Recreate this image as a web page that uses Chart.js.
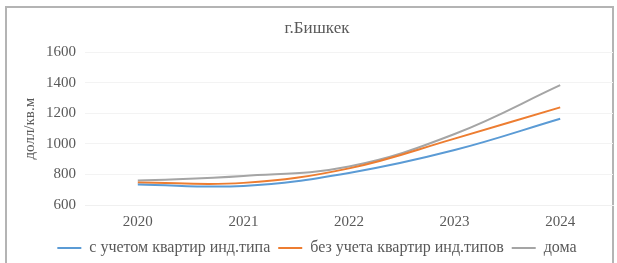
<!DOCTYPE html>
<html>
<head>
<meta charset="utf-8">
<script src="https://cdn.jsdelivr.net/npm/chart.js@4"></script>
<style>
  html, body { margin: 0; padding: 0; background: #fff; }
  #wrap { position: relative; width: 617px; height: 263px; overflow: hidden; }
  #frame { position: absolute; left: 5px; top: 6px; width: 609px; height: 300px;
           border: 2px solid #b4b4b4; box-sizing: border-box; }
  canvas { position: absolute; left: 0; top: 0; }
</style>
</head>
<body>
<div id="wrap">
  <div id="frame"></div>
  <canvas id="chart" width="617" height="263"></canvas>
</div>
<script>
// values
const years = ['2020', '2021', '2022', '2023', '2024'];
const withIndiv = [735, 725, 810, 960, 1165];      // с учетом квартир инд.типа
const withoutIndiv = [748, 745, 840, 1035, 1240];  // без учета квартир инд.типов
const houses = [760, 790, 852, 1065, 1385];        // дома
const yTicks = [600, 800, 1000, 1200, 1400, 1600];

const FONT = "'Liberation Serif', 'DejaVu Serif', serif";
const TXT = '#595959';

function series(label, data, color){
  return {
    label: label, data: data,
    borderColor: color, backgroundColor: color,
    borderWidth: 2, pointRadius: 0, tension: 0.4, fill: false
  };
}

const ctx = document.getElementById('chart').getContext('2d');
const chart = new Chart(ctx, {
  type: 'line',
  data: {
    labels: years,
    datasets: [
      series('с учетом квартир инд.типа', withIndiv, '#5b9bd5'),
      series('без учета квартир инд.типов', withoutIndiv, '#ed7d31'),
      series('дома', houses, '#a5a5a5')
    ]
  },
  options: {
    responsive: false,
    animation: false,
    layout: { padding: { left: 21, right: 4, top: 0, bottom: -3 } },
    plugins: {
      title: {
        display: true, text: 'г.Бишкек', color: TXT,
        font: { family: FONT, size: 17, weight: 'normal' },
        padding: { top: 18, bottom: 14 }
      },
      legend: {
        position: 'bottom',
        labels: {
          color: TXT, font: { family: FONT, size: 16 },
          usePointStyle: true, pointStyle: 'line', pointStyleWidth: 24,
          padding: 8
        }
      },
      tooltip: { enabled: false }
    },
    scales: {
      x: {
        offset: true,
        afterFit: function(s){ s.height = 27; },
        grid: { display: false, drawTicks: false },
        border: { color: '#f0f0f0' },
        ticks: { color: TXT, font: { family: FONT, size: 15 }, padding: 8 }
      },
      y: {
        min: 600, max: 1600,
        afterFit: function(s){ s.width = 64; },
        afterBuildTicks: function(s){ s.ticks = yTicks.map(v => ({ value: v })); },
        grid: { color: '#f3f3f3', drawTicks: false },
        border: { display: false },
        ticks: { color: TXT, font: { family: FONT, size: 15 }, padding: 9,
                 callback: function(v){ return String(v); } },
        title: {
          display: true, text: 'долл/кв.м', color: TXT,
          font: { family: FONT, size: 15 }, padding: { top: 0, bottom: 2 }
        }
      }
    }
  }
});
</script>
</body>
</html>
